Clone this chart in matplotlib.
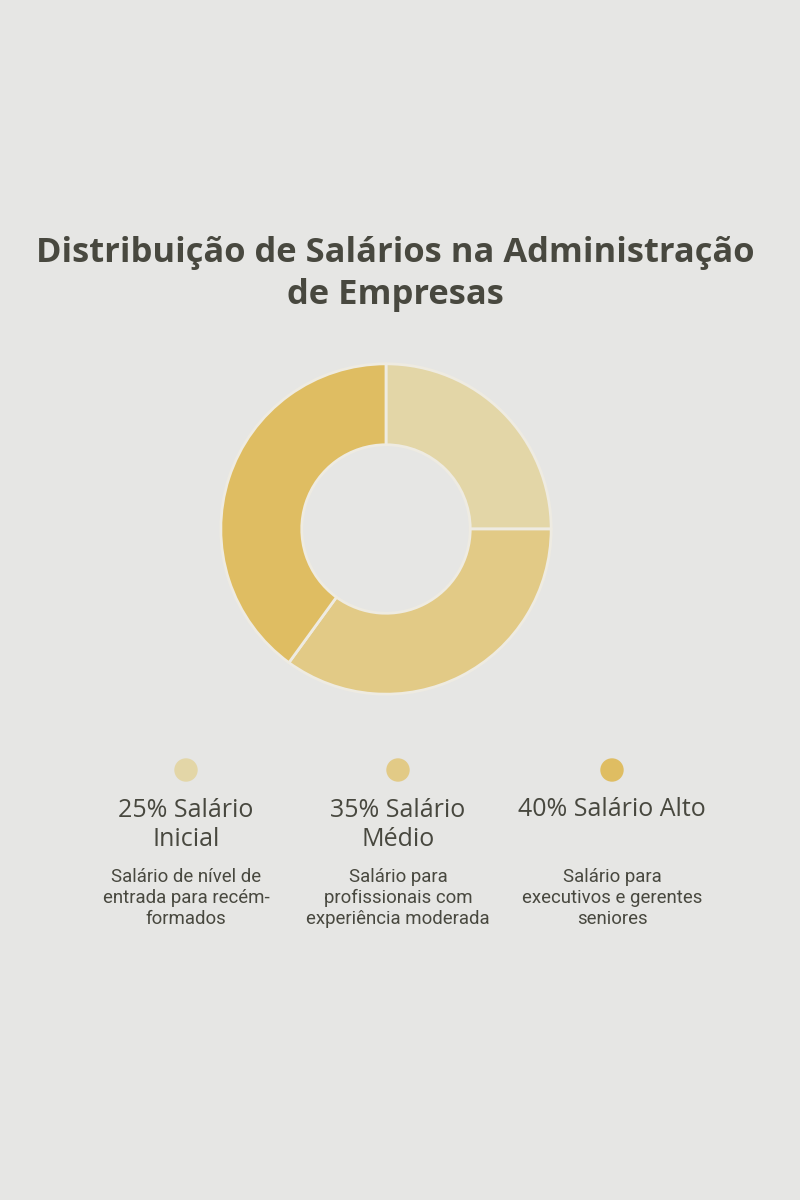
import matplotlib
matplotlib.use("Agg")
from matplotlib import pyplot as plt
from matplotlib.patches import Ellipse

title = "Distribuição de Salários na Administração\nde Empresas"
shares = [25, 35, 40]
names = ["Salário\nInicial", "Salário\nMédio", "Salário Alto"]
notes = ["Salário de nível de\nentrada para recém-\nformados",
         "Salário para\nprofissionais com\nexperiência moderada",
         "Salário para\nexecutivos e gerentes\nseniores"]
colors = ["#e3d6a7", "#e2ca86", "#dfbd62"]

bg = "#e6e6e4"
ink = "#48483f"

fig = plt.figure(figsize=(8, 12), dpi=100, facecolor=bg)

fig.text(0.494, 1 - 274 / 1200, title, ha="center", va="center", fontsize=24.8,
         family="Open Sans", weight="bold", color=ink, linespacing=1.3)

# donut
ax = fig.add_axes([(386 - 166) / 800, 1 - (529 + 166) / 1200, 332 / 800, 332 / 1200])
ax.set_facecolor(bg)
ax.pie(shares, colors=colors, startangle=90, counterclock=False, radius=1,
       wedgeprops=dict(width=0.49, edgecolor="#eeebe2", linewidth=2))
ax.set_xlim(-1.005, 1.005)
ax.set_ylim(-1.005, 1.005)
ax.set_aspect("equal")
ax.axis("off")

# legend blocks
xs = [186, 398, 612]
for x, s, n, d, c in zip(xs, shares, names, notes, colors):
    fig.patches.append(Ellipse((x / 800, 1 - 770 / 1200), 22 / 800, 22 / 1200,
                               transform=fig.transFigure, color=c))
    lab = f"{s}% {n}"
    ly = 823 if "\n" in lab else 808
    fig.text(x / 800, 1 - (ly + 2) / 1200, lab, ha="center", va="center",
             fontsize=18, family="Open Sans", color=ink, linespacing=1.25)
    fig.text(x / 800, 1 - 898 / 1200, d, ha="center", va="center", fontsize=13.4,
             family="Roboto", color=ink, linespacing=1.2)

fig.savefig("out.png", dpi=100, facecolor=bg)
